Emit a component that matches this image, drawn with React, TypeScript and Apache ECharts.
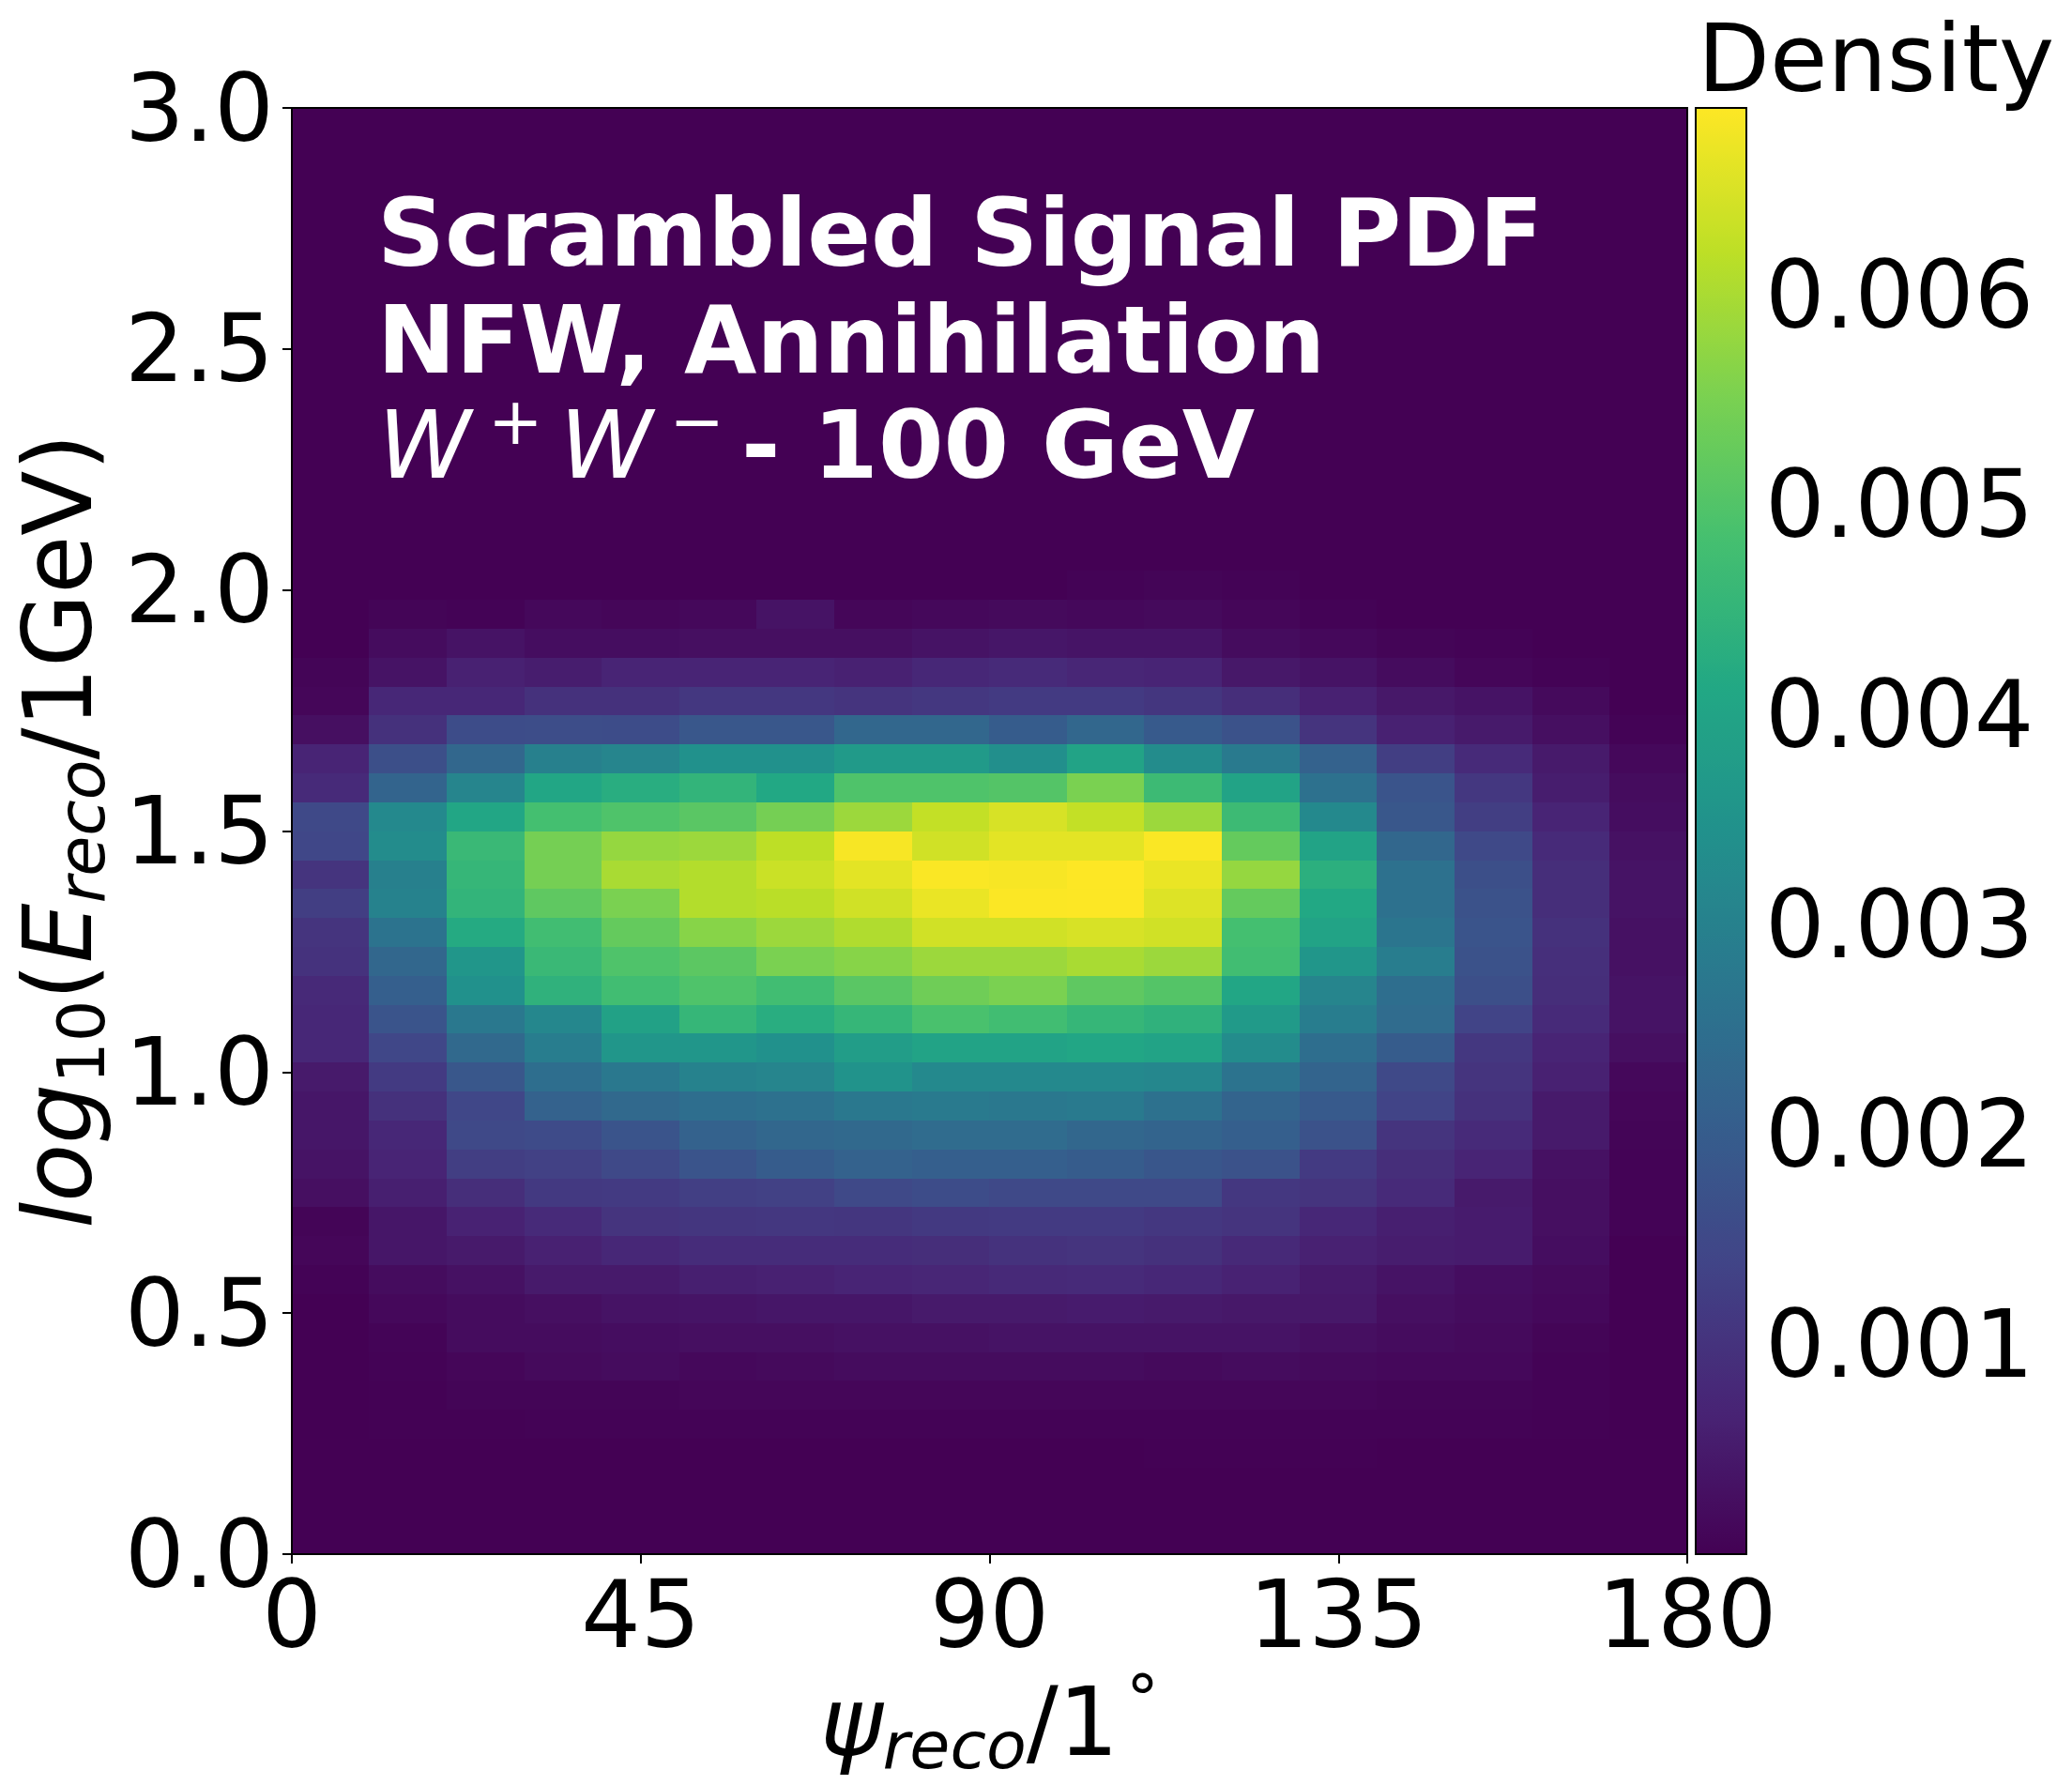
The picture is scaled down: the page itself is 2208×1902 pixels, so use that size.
// App.tsx
import { useEffect, useRef } from "react";
import * as echarts from "echarts";

const psiBins = Array.from({ length: 18 }, (_, i) => String(i * 10));
const logEBins = Array.from({ length: 50 }, (_, i) => (i * 0.06).toFixed(2));

const peakDensity = 0.00689;
const viridis = ["#440154", "#482475", "#414487", "#355f8d", "#2a788e", "#21918c", "#22a884", "#44bf70", "#7ad151", "#bddf26", "#fde725"];

const xTicks = [0, 45, 90, 135, 180];
const colorbarTicks = [0.001, 0.002, 0.003, 0.004, 0.005, 0.006];

// density in percent of the peak, one list per energy bin (bottom up)
const row03 = [0, 0, 0, 0, 0, 0, 0, 0, 0, 0, 0, 0.2, 0.2, 0.2, 0, 0, 0, 0];
const row04 = [0, 0.2, 0.2, 0.7, 0.7, 0.7, 0.7, 0.7, 0.7, 0.7, 0.7, 0.7, 0.7, 0.7, 0.6, 0.5, 0.2, 0];
const row05 = [0, 0.3, 1, 1, 1, 1.5, 1.5, 1.5, 1.5, 1.5, 1.5, 1.5, 1.5, 1.5, 1, 1, 0.5, 0];
const row06 = [0, 0.5, 1.5, 2.5, 3, 2, 2.5, 3, 3, 3, 3, 2.5, 3, 2.5, 2, 2, 0.5, 0];
const row07 = [0, 0.8, 3, 3, 3.5, 4, 4, 4.5, 4.5, 5, 5, 5, 5, 4, 3, 2.5, 1, 0];
const row08 = [0, 2, 3, 4, 5, 5.5, 6, 6, 7, 7, 7.5, 7, 6.5, 6.5, 4, 3, 2, 0];
const row09 = [0.5, 3, 4.5, 7, 7, 8.5, 9, 10, 10.5, 11.5, 12, 11, 9.5, 7, 5, 3.5, 2.5, 0];
const row10 = [1.5, 6, 7, 9, 11, 12.5, 12.5, 12.5, 13, 14.5, 15, 14, 11.5, 9, 8, 7.5, 3.5, 0];
const row11 = [1, 6, 9.5, 12, 15, 15.5, 16, 15.5, 16.5, 17, 17, 16, 15, 11, 8.5, 7.5, 4, 0.5];
const row12 = [4, 8.5, 13, 16.5, 17, 18.5, 19, 22, 23, 22, 22, 22, 16, 15, 12, 7, 4, 0.5];
const row13 = [5, 10, 18, 19, 22, 26, 29, 31, 30, 30, 29, 26.5, 25, 17, 13, 10, 4.5, 0.5];
const row14 = [6, 11, 22, 22.5, 26, 31, 33, 34, 35, 35, 33, 32, 30, 25, 15, 12, 7, 1];
const row15 = [6, 14, 21, 31, 34, 36, 37, 40, 41, 40, 41, 37, 32, 28, 20, 14, 7, 1.5];
const row16 = [7, 17, 27, 36, 40, 44, 45, 51, 47, 47, 47, 46, 38, 32, 22, 15, 9, 2];
const row17 = [11, 21, 34, 42, 52, 52, 50, 55, 58, 58, 59, 58, 48, 36, 29, 16, 10, 4];
const row18 = [11, 26, 40, 46, 57, 66, 62, 66, 71, 69, 66, 64, 54, 42, 35, 20, 12, 5];
const row19 = [11.5, 30, 50, 64, 69, 72, 69, 74, 78, 80, 75, 73, 59, 45, 36, 24, 13, 5];
const row20 = [14.5, 33, 52, 67, 72, 74.5, 80, 82, 85, 85, 87, 85, 69, 52, 42, 25, 13.5, 4.5];
const row21 = [15, 38, 61, 69, 76, 82, 85, 88, 93, 93, 94, 93, 70, 58, 39, 26, 14, 4.5];
const row22 = [18, 44, 65, 75, 80, 88.5, 89.5, 93, 97, 99.7, 99.8, 95, 76, 60, 37, 25, 13, 5];
const row23 = [15, 43, 66, 79, 87, 88.5, 92, 96, 99.5, 99, 100, 97, 84, 63, 37, 24, 13, 5];
const row24 = [21, 48, 67, 79, 84, 85, 90, 99, 93, 96, 96, 99.5, 76, 58, 33, 22, 12, 4.5];
const row25 = [22, 47, 59, 70, 72, 74, 79, 85, 91, 94, 91, 85, 68, 47, 27, 18, 10, 3.5];
const row26 = [12, 32, 45, 59, 62, 65, 60, 72, 72, 73, 80, 68, 58, 37, 26, 16, 8, 3];
const row27 = [10, 24, 33, 43, 45, 50, 50, 54, 54, 49, 58, 48, 41, 31, 18, 12, 7, 2];
const row28 = [4, 14, 23, 23.5, 23, 27, 27, 33, 33, 29, 33, 28, 25, 15, 9, 7, 4, 0.5];
const row29 = [1.5, 11, 11, 14, 14, 16, 16, 15, 16, 17, 17, 15.5, 13, 9, 6.5, 5, 2.5, 0];
const row30 = [1, 5, 9, 8, 10, 10, 10, 9, 11, 12, 10.5, 10, 6.5, 5, 3, 1.5, 0.5, 0];
const row31 = [0, 3, 5, 3.5, 3.5, 4, 4, 4, 5, 6, 5.5, 5.5, 3, 2, 1, 0.5, 0, 0];
const row32 = [0, 1, 0.5, 2, 1.5, 2, 5, 1.5, 2, 2.5, 2, 2.5, 1.5, 0.5, 0, 0, 0, 0];
const row33 = [0, 0, 0, 0, 0, 0, 0, 0, 0, 0, 0.5, 1, 0.5, 0, 0, 0, 0, 0];

const measuredRows = [row03, row04, row05, row06, row07, row08, row09, row10, row11, row12, row13, row14, row15, row16, row17, row18, row19, row20, row21, row22, row23, row24, row25, row26, row27, row28, row29, row30, row31, row32, row33];
const firstMeasuredRow = 3;

const FONT = "DejaVu Sans";
const TICK_SIZE = 100;
const NAME_SIZE = 101;
const SUB_SIZE = 70;

const App = () => {
  const chartRef = useRef<HTMLDivElement>(null);

  useEffect(() => {
    if (!chartRef.current) return;
    const chart = echarts.init(chartRef.current, null, { renderer: "svg" });

    const cells: number[][] = [];
    logEBins.forEach((_, y) => {
      const row = measuredRows[y - firstMeasuredRow];
      psiBins.forEach((_, x) => {
        const pct = row ? row[x] : 0;
        cells.push([x, y, (pct / 100) * peakDensity]);
      });
    });

    const labelStyle = { fontFamily: FONT, fontSize: TICK_SIZE, color: "#000" };
    const tickStyle = { length: 10, lineStyle: { color: "#000", width: 2 } };
    const mathRich = {
      it: { fontFamily: FONT, fontSize: NAME_SIZE, fontStyle: "italic", color: "#000", lineHeight: 120, verticalAlign: "middle" },
      sub: { fontFamily: FONT, fontSize: SUB_SIZE, fontStyle: "italic", color: "#000", lineHeight: 66, verticalAlign: "bottom" },
      sub2: { fontFamily: FONT, fontSize: SUB_SIZE, color: "#000", lineHeight: 66, verticalAlign: "bottom" },
      rest: { fontFamily: FONT, fontSize: NAME_SIZE, color: "#000", lineHeight: 120, verticalAlign: "middle" },
      deg: { fontFamily: FONT, fontSize: SUB_SIZE, color: "#000", lineHeight: 104, verticalAlign: "top", padding: [0, 0, 0, 8] },
    };

    const option = {
      animation: false,
      backgroundColor: "#fff",
      grid: [
        { left: 311, top: 115, width: 1487, height: 1541, show: true, z: 10, borderColor: "#000", borderWidth: 2, backgroundColor: "transparent", outerBoundsMode: "none" },
        { left: 1807, top: 115, width: 54, height: 1541, show: true, z: 10, borderColor: "#000", borderWidth: 2, backgroundColor: "transparent", outerBoundsMode: "none" },
      ],
      xAxis: [
        { type: "category", data: psiBins, gridIndex: 0, show: false },
        {
          type: "value",
          gridIndex: 0,
          position: "bottom",
          min: 0,
          max: 180,
          interval: 45,
          splitLine: { show: false },
          axisLine: { show: false },
          axisTick: tickStyle,
          axisLabel: { ...labelStyle, margin: 14, customValues: xTicks },
          name: "{it|ψ}{sub|reco}{rest|/1}{deg|°}",
          nameLocation: "middle",
          nameGap: 104,
          nameTextStyle: { color: "#000", rich: mathRich },
        },
        { type: "value", gridIndex: 1, show: false, min: 0, max: 1 },
      ],
      yAxis: [
        { type: "category", data: logEBins, gridIndex: 0, show: false },
        {
          type: "value",
          gridIndex: 0,
          position: "left",
          min: 0,
          max: 3,
          interval: 0.5,
          splitLine: { show: false },
          axisLine: { show: false },
          axisTick: tickStyle,
          axisLabel: { ...labelStyle, margin: 19, padding: [8, 0, 0, 0], formatter: (v: number) => v.toFixed(1) },
          name: "{it|log}{sub2|10}{rest|(}{it|E}{sub|reco}{rest|/1GeV)}",
          nameLocation: "middle",
          nameGap: 184,
          nameRotate: 90,
          nameTextStyle: { color: "#000", rich: mathRich },
        },
        {
          type: "value",
          gridIndex: 1,
          position: "right",
          min: 0,
          max: peakDensity,
          splitLine: { show: false },
          axisLine: { show: false },
          axisTick: { ...tickStyle, customValues: colorbarTicks },
          axisLabel: { ...labelStyle, margin: 20, padding: [11, 0, 0, 0], customValues: colorbarTicks, formatter: (v: number) => v.toFixed(3) },
        },
      ],
      visualMap: {
        type: "continuous",
        seriesIndex: 0,
        min: 0,
        max: peakDensity,
        calculable: false,
        hoverLink: false,
        padding: 0,
        left: 1807,
        top: 115,
        itemWidth: 54,
        itemHeight: 1541,
        inRange: { color: viridis },
        textStyle: { color: "transparent" },
        text: null,
        showLabel: false,
      },
      graphic: [
        {
          type: "text",
          x: 1999,
          y: 62,
          z: 20,
          style: { text: "Density", fontFamily: FONT, fontSize: 100, fill: "#000", align: "center", verticalAlign: "middle" },
        },
        {
          type: "text",
          x: 402,
          y: 248,
          z: 20,
          style: { text: "Scrambled Signal PDF", fontFamily: FONT, fontSize: 100, fontWeight: "bold", fill: "#fff", verticalAlign: "middle" },
        },
        {
          type: "text",
          x: 402,
          y: 362,
          z: 20,
          style: { text: "NFW, Annihilation", fontFamily: FONT, fontSize: 100, fontWeight: "bold", fill: "#fff", verticalAlign: "middle" },
        },
        {
          type: "text",
          x: 403,
          y: 474,
          z: 20,
          style: {
            text: "{w|W}{sup|+}{w|W}{sup|−}{b|- 100 GeV}",
            verticalAlign: "middle",
            rich: {
              w: { fontFamily: FONT, fontSize: 100, fontStyle: "italic", fill: "#fff", lineHeight: 120, verticalAlign: "middle" },
              sup: { fontFamily: FONT, fontSize: 70, fill: "#fff", lineHeight: 70, verticalAlign: "top", padding: [0, 18, 0, 18] },
              b: { fontFamily: FONT, fontSize: 100, fontWeight: "bold", fill: "#fff", lineHeight: 120, verticalAlign: "middle" },
            },
          },
        },
      ],
      series: [
        {
          type: "heatmap",
          xAxisIndex: 0,
          yAxisIndex: 0,
          data: cells,
          itemStyle: { borderWidth: 0 },
          emphasis: { disabled: true },
        },
      ],
    };

    chart.setOption(option);

    // Cleanup on component unmount
    return () => {
      chart.dispose();
    };
  }, []);

  return (
    <>
      {/* stops hairline seams between the heatmap's fractional cells */}
      <style>{"svg path { shape-rendering: crispEdges; }"}</style>
      <div ref={chartRef} style={{ position: "absolute", left: 0, top: 0, width: 2208, height: 1902 }} />
    </>
  );
};

export default App;
